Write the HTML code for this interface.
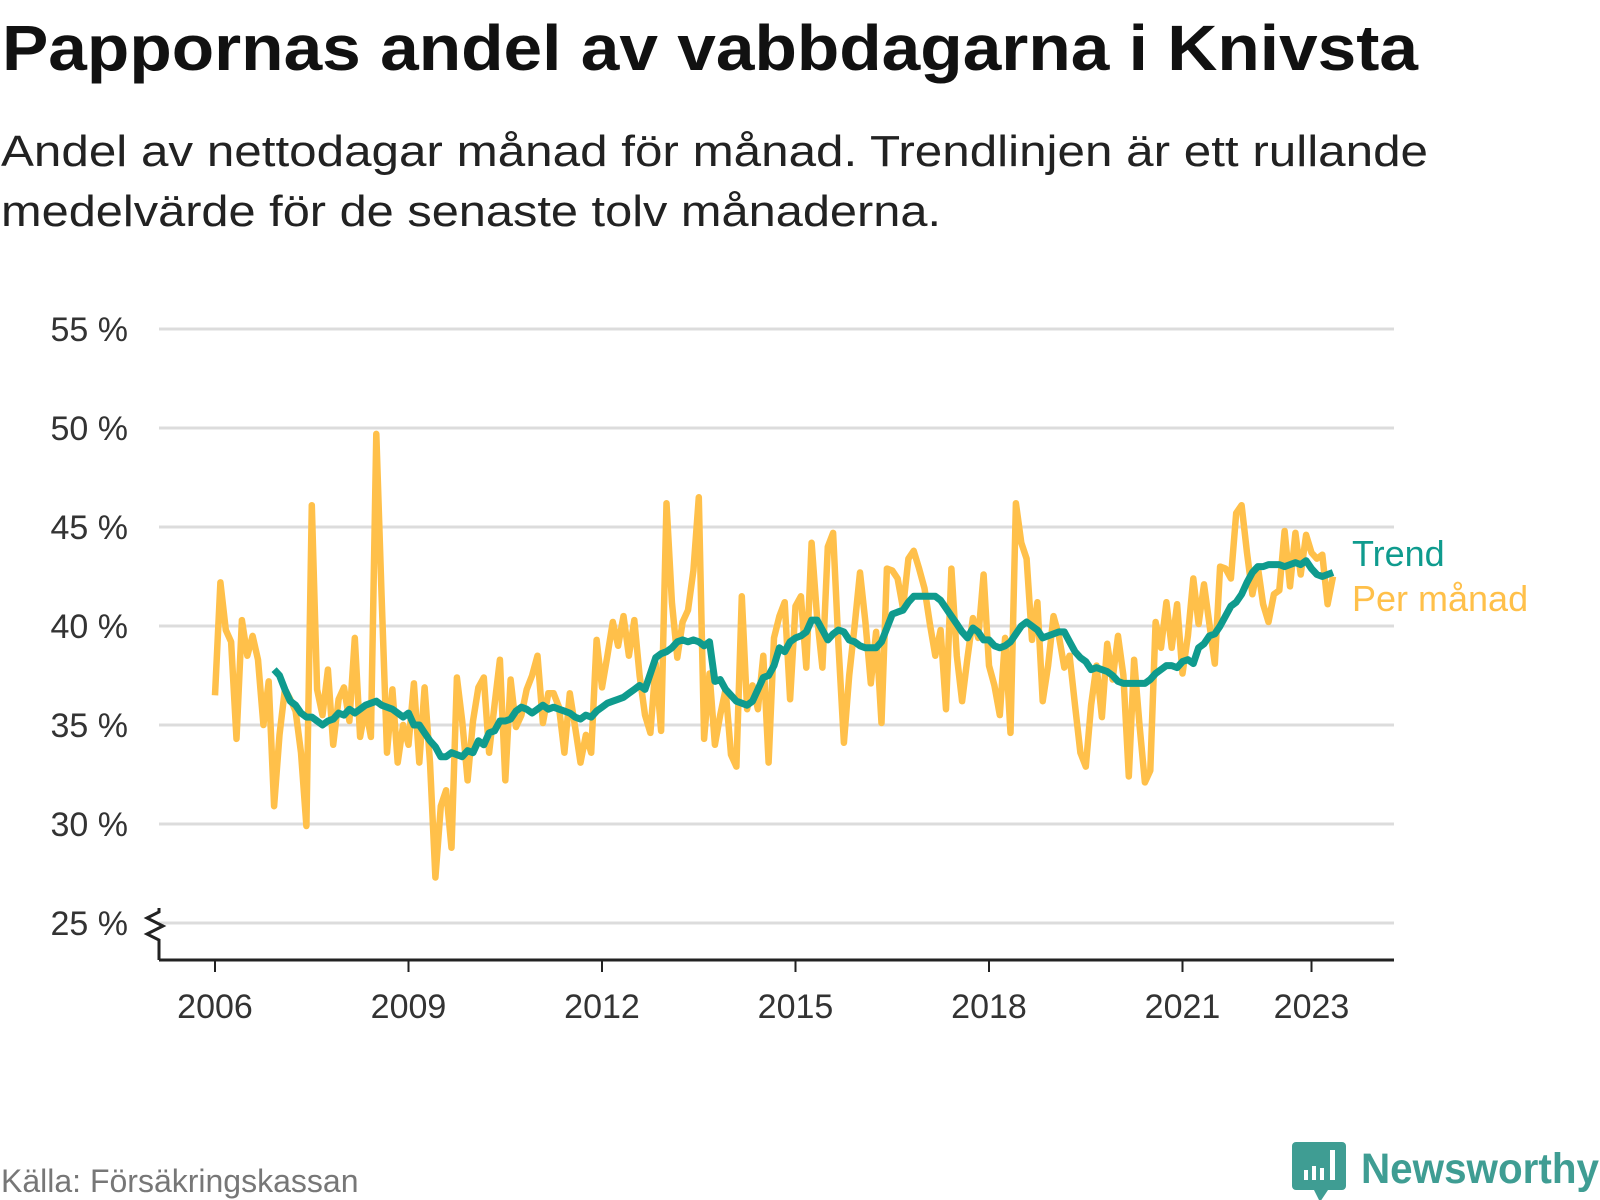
<!DOCTYPE html>
<html><head><meta charset="utf-8">
<style>
html,body{margin:0;padding:0;background:#fff;}
svg{display:block;font-family:"Liberation Sans",sans-serif;}
</style></head>
<body>
<svg id="chart" width="1600" height="1200" viewBox="0 0 1600 1200" xmlns="http://www.w3.org/2000/svg">
  <text x="2" y="70" font-size="64" font-weight="bold" fill="#111" textLength="1416" lengthAdjust="spacingAndGlyphs">Pappornas andel av vabbdagarna i Knivsta</text>
  <text x="1" y="166" font-size="44" fill="#222" textLength="1427" lengthAdjust="spacingAndGlyphs">Andel av nettodagar månad för månad. Trendlinjen är ett rullande</text>
  <text x="1" y="226" font-size="44" fill="#222" textLength="940" lengthAdjust="spacingAndGlyphs">medelvärde för de senaste tolv månaderna.</text>
  <g id="grid"></g>
  <g id="yaxis"></g>
  <g id="xaxis"></g>
  <g id="series"></g>
  <text x="1352" y="566" font-size="36" fill="#0f9b8e">Trend</text>
  <text x="1352" y="611" font-size="36" fill="#ffc04a">Per månad</text>
  <text x="1" y="1192" font-size="32" fill="#777">Källa: Försäkringskassan</text>
  <g>
    <path d="M1296 1142 h46 a4 4 0 0 1 4 4 v40 a4 4 0 0 1 -4 4 h-14 l-8 12 l-6 -12 h-18 a4 4 0 0 1 -4 -4 v-40 a4 4 0 0 1 4 -4z" fill="#3f9d93"/>
    <rect x="1304" y="1170" width="4" height="10" fill="#fff"/>
    <rect x="1312" y="1166" width="4" height="14" fill="#fff"/>
    <rect x="1320" y="1168" width="4" height="12" fill="#fff"/>
    <rect x="1330" y="1150" width="5" height="30" fill="#fff"/>
    <text x="1361" y="1183" font-size="43" font-weight="bold" fill="#3f9d93" textLength="238" lengthAdjust="spacingAndGlyphs">Newsworthy</text>
  </g>
</svg>
<script>
const monthly = [
36.5,42.2,39.8,39.2,34.3,40.3,38.5,39.5,38.3,35.0,37.2,30.9,
34.5,36.8,36.3,35.7,33.6,29.9,46.1,36.8,35.5,37.8,34.0,36.3,
36.9,35.2,39.4,34.4,35.9,34.4,49.7,41.5,33.6,36.8,33.1,35.0,
34,37.1,33.1,36.9,33.1,27.3,30.9,31.7,28.8,37.4,35.2,32.2,
35.2,36.9,37.4,33.6,36,38.3,32.2,37.3,34.9,35.5,36.8,37.5,
38.5,35.1,36.6,36.6,35.9,33.6,36.6,34.9,33.1,34.5,33.6,39.3,
36.9,38.5,40.2,39,40.5,38.5,40.3,37.5,35.5,34.6,38.1,34.7,
46.2,41.2,38.4,40.2,40.8,42.8,46.5,34.3,37.6,34.0,35.5,36.8,
33.5,32.9,41.5,35.8,37,35.8,38.5,33.1,39.4,40.5,41.2,36.3,
41.0,41.5,37.9,44.2,40.5,37.9,44.0,44.7,39.0,34.1,37.5,40,
42.7,40.2,37.1,39.7,35.1,42.9,42.8,42.4,40.9,43.4,43.8,42.9,
41.9,40.1,38.5,39.8,35.8,42.9,38.5,36.2,38.4,40.4,39.4,42.6,
38.0,37,35.5,39.4,34.6,46.2,44.2,43.4,39.3,41.2,36.2,38.0,
40.5,39.5,37.9,38.5,36,33.6,32.9,
36,38,35.4,39.1,37.3,39.5,37.5,32.4,38.3,35,32.1,32.7,40.2,38.9,41.2,38.9,41.1,37.6,39.5,42.4,40.1,42.1,40.1,38.1,43,42.9,42.4,45.7,46.1,43.7,41.6,43,41.1,40.2,41.6,41.8,44.8,42.0,44.7,42.6,44.6,43.7,43.4,43.6,41.1,42.5
];
const trendStartIndex = 11;
const trend = [
37.8,
37.5,36.8,36.2,36,35.6,35.4,35.4,35.2,35,35.2,35.3,35.6,
35.5,35.8,35.6,35.8,36,36.1,36.2,36,35.9,35.8,35.6,35.4,
35.6,35,35,34.6,34.2,33.9,33.4,33.4,33.6,33.5,33.4,33.7,
33.6,34.2,34,34.6,34.7,35.2,35.2,35.3,35.7,35.9,35.8,35.6,
35.8,36,35.8,35.9,35.8,35.7,35.6,35.4,35.3,35.5,35.4,35.7,
35.9,36.1,36.2,36.3,36.4,36.6,36.8,37,36.8,37.6,38.4,38.6,
38.7,38.9,39.2,39.3,39.2,39.3,39.2,39,39.2,37.2,37.3,36.8,
36.5,36.2,36.1,36,36.2,36.8,37.4,37.5,38,38.9,38.7,39.2,
39.4,39.5,39.7,40.3,40.3,39.8,39.3,39.6,39.8,39.7,39.3,39.2,
39,38.9,38.9,38.9,39.2,39.9,40.6,40.7,40.8,41.2,41.5,41.5,
41.5,41.5,41.5,41.3,40.9,40.5,40.1,39.7,39.4,39.9,39.7,39.3,
39.3,39,38.9,39,39.2,39.6,40,40.2,40,39.8,39.4,39.5,
39.6,39.7,39.7,39.2,38.7,38.4,38.2,37.8,37.9,37.8,37.7,37.5,
37.2,37.1,37.1,37.1,37.1,37.1,37.3,37.6,37.8,38,38,37.9,
38.2,38.3,38.1,38.9,39.1,39.5,39.6,40,40.5,41,41.2,41.6,
42.2,42.7,43,43,43.1,43.1,43.1,43,43.1,43.2,43.1,43.3,
42.9,42.6,42.5,42.6,42.7
];
const yTicks = [25,30,35,40,45,50,55];
const yTickLabels = ["25 %","30 %","35 %","40 %","45 %","50 %","55 %"];
const xTicks = [2006,2009,2012,2015,2018,2021,2023];
const xTickLabels = ["2006","2009","2012","2015","2018","2021","2023"];

const NS="http://www.w3.org/2000/svg";
function yScale(v){ return 428 + (50 - v) * 19.8; }
function xYear(y){ return 215 + (y - 2006) * 64.5; }
function xIndex(i){ return xYear(2006 + i / 12); }
function mk(tag, attrs, parent){ const e=document.createElementNS(NS,tag); for(const k in attrs) e.setAttribute(k,attrs[k]); parent.appendChild(e); return e; }

const grid=document.getElementById('grid');
const yaxis=document.getElementById('yaxis');
yTicks.forEach((t,i)=>{
  const l=mk('line',{x1:159,x2:1394,y1:yScale(t),y2:yScale(t),stroke:'#dcdcdc','stroke-width':3},grid);
  
  
  const tx=mk('text',{x:128,y:yScale(t)+12,'font-size':34,fill:'#333','text-anchor':'end'},yaxis);
  tx.textContent=yTickLabels[i];
  
  
});
const brk=mk('path',{d:'M159 908 l0 4 l-12 6 l16 8 l-16 8 l12 6 l0 20',fill:'none',stroke:'#222','stroke-width':3},yaxis);



const xaxis=document.getElementById('xaxis');
const axl=mk('line',{x1:159,x2:1394,y1:960,y2:960,stroke:'#222','stroke-width':3},xaxis);


xTicks.forEach((t,i)=>{
  const x=xYear(t);
  const tk=mk('line',{x1:x,x2:x,y1:960,y2:972,stroke:'#222','stroke-width':2},xaxis);
  
  
  const tx=mk('text',{x:x,y:1018,'font-size':34,fill:'#333','text-anchor':'middle'},xaxis);
  tx.textContent=xTickLabels[i];
  
  
});

const series=document.getElementById('series');
const mPts=monthly.map((v,i)=>xIndex(i).toFixed(1)+','+yScale(v).toFixed(1)).join(' ');
const ml=mk('polyline',{points:mPts,fill:'none',stroke:'#ffc04a','stroke-width':6.5,'stroke-linejoin':'round'},series);


const tPts=trend.map((v,i)=>xIndex(i+trendStartIndex).toFixed(1)+','+yScale(v).toFixed(1)).join(' ');
const tl=mk('polyline',{points:tPts,fill:'none',stroke:'#0f9b8e','stroke-width':7,'stroke-linejoin':'round'},series);


</script>
</body></html>
